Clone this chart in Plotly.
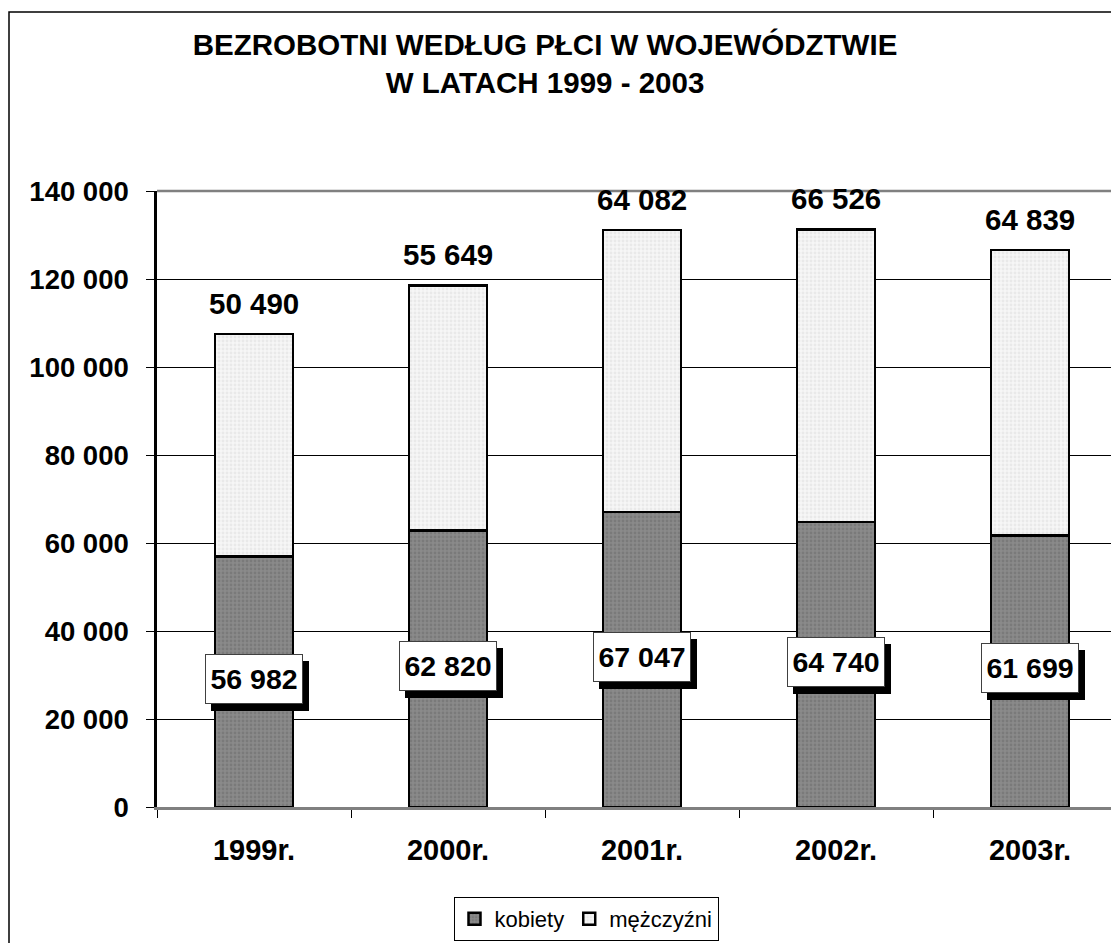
import plotly.graph_objects as go

years = ["1999r.", "2000r.", "2001r.", "2002r.", "2003r."]
kobiety = [56982, 62820, 67047, 64740, 61699]
mezczyzni = [50490, 55649, 64082, 66526, 64839]
ytick_vals = [0, 20000, 40000, 60000, 80000, 100000, 120000, 140000]
ytick_text = ["0", "20 000", "40 000", "60 000", "80 000", "100 000", "120 000", "140 000"]

def fmt(v):
    return f"{v:,}".replace(",", " ")

FONT = "Liberation Sans, Arial, sans-serif"

fig = go.Figure()
fig.add_trace(go.Bar(
    x=years, y=kobiety, name="kobiety", width=0.4,
    marker=dict(color="#808080", line=dict(color="black", width=2.5),
                pattern=dict(shape=".", fgcolor="#6a6a6a", bgcolor="#8a8a8a", size=4, solidity=0.4)),
))
fig.add_trace(go.Bar(
    x=years, y=mezczyzni, name="mężczyźni", width=0.4,
    marker=dict(color="#f2f2f2", line=dict(color="black", width=2.5),
                pattern=dict(shape=".", fgcolor="#dcdcdc", bgcolor="#f6f6f6", size=4, solidity=0.4)),
))

annotations = []
for i, (yr, k, m) in enumerate(zip(years, kobiety, mezczyzni)):
    # top label for men
    annotations.append(dict(x=yr, y=k + m, text=fmt(m), showarrow=False, yanchor="middle",
                            yshift=31, font=dict(family=FONT, size=29.5, color="black", weight="bold")))
    # shadow box
    annotations.append(dict(x=yr, y=k / 2, text=" ", showarrow=False, xshift=6, yshift=3 - 7,
                            width=94, height=46, borderpad=1, borderwidth=1, bordercolor="black",
                            bgcolor="black", font=dict(family=FONT, size=28, color="black")))
    # white box
    annotations.append(dict(x=yr, y=k / 2, text=fmt(k), showarrow=False, yshift=3,
                            width=94, height=46, borderpad=1, borderwidth=1, bordercolor="#404040",
                            bgcolor="white", font=dict(family=FONT, size=28.5, color="black", weight="bold")))

# page has an 8px body margin; size the figure so it fits the 1119x943 window
OFF = 8
W, H = 1119 - OFF, 943 - OFF
L, R, T, B = 157 - OFF, 0, 191 - OFF, 943 - 807
pw, ph = W - L - R, H - T - B

shapes = [
    # outer chart border
    dict(type="rect", xref="paper", yref="paper",
         x0=(9 - OFF - L) / pw, x1=1.2, y0=-0.6, y1=(H - B - (12 - OFF)) / ph,
         line=dict(color="black", width=1.5), fillcolor="rgba(0,0,0,0)", layer="below"),
    # plot-area top border
    dict(type="line", xref="paper", yref="paper", x0=0, x1=1.01, y0=1, y1=1,
         line=dict(color="#808080", width=2.5)),
]

fig.update_layout(
    width=W, height=H,
    barmode="stack",
    paper_bgcolor="white", plot_bgcolor="white",
    margin=dict(l=L, r=R, t=T, b=B),
    font=dict(family=FONT, color="black"),
    title=dict(text="BEZROBOTNI WEDŁUG PŁCI W WOJEWÓDZTWIE<br>W LATACH 1999 - 2003",
               x=(545 - OFF) / W, xanchor="center", y=1 - (55 - OFF) / H, yanchor="middle",
               font=dict(family=FONT, size=29.5, weight="bold", color="black")),
    xaxis=dict(type="category", range=[-0.5, -0.5 + pw / 194], showgrid=False,
               showline=True, linecolor="#808080", linewidth=2.5,
               ticks="outside", tickson="boundaries", ticklen=8, tickcolor="black",
               ticklabelstandoff=15,
               tickfont=dict(family=FONT, size=29, weight="bold", color="black")),
    yaxis=dict(range=[0, 140000], tickvals=ytick_vals, ticktext=ytick_text,
               showgrid=True, gridcolor="black", gridwidth=1,
               showline=True, linecolor="black", linewidth=2.5,
               ticks="outside", ticklen=8, tickcolor="black", ticklabelstandoff=12,
               zeroline=False,
               tickfont=dict(family=FONT, size=27.5, weight="bold", color="black")),
    legend=dict(orientation="h", x=(586 - OFF - L) / pw, xanchor="center",
                y=(H - B - (897 - OFF)) / ph, yanchor="top",
                bordercolor="black", borderwidth=1, bgcolor="white",
                itemwidth=30, traceorder="normal",
                font=dict(family=FONT, size=22, color="black")),
    annotations=annotations,
    shapes=shapes,
    bargap=0.6,
)

fig.write_html("out.html")
